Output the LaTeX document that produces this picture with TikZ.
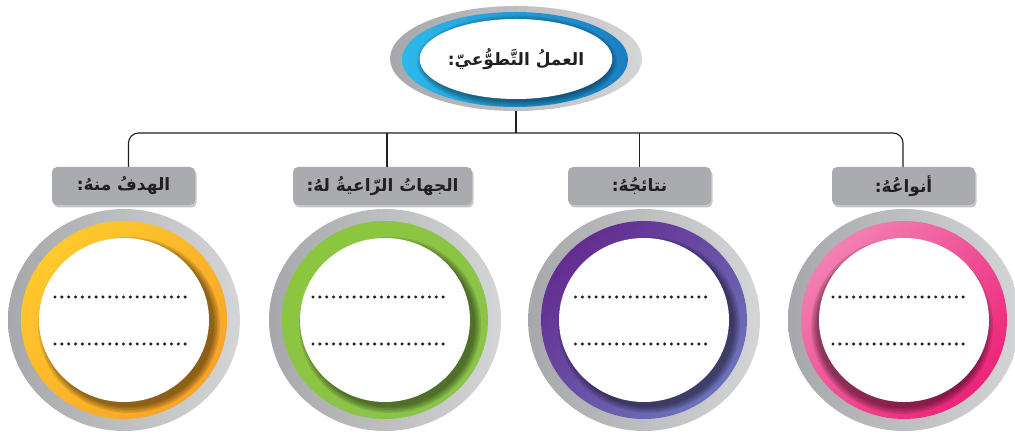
\documentclass[tikz,border=0pt]{standalone}
\usepackage{fontspec}
\TeXXeTstate=1
\newfontfamily\arabicfont[Script=Arabic]{DejaVu Sans}
\usetikzlibrary{shapes.geometric,shadows}
\definecolor{grayL}{HTML}{A6A8AB}
\definecolor{grayR}{HTML}{D4D5D6}
\definecolor{lblgray}{HTML}{A9ABAE}
\definecolor{txt}{HTML}{231F20}
\definecolor{blueA}{HTML}{2CB8EA}
\definecolor{blueB}{HTML}{1A7EC2}
\definecolor{yelA}{HTML}{FFC92C}
\definecolor{yelB}{HTML}{F7A42A}
\definecolor{grnA}{HTML}{8CC63F}
\definecolor{grnB}{HTML}{8BC34A}
\definecolor{purA}{HTML}{642C90}
\definecolor{purB}{HTML}{6C72BA}
\definecolor{pnkA}{HTML}{F37FB3}
\definecolor{pnkB}{HTML}{EC2479}
\tikzset{
  outerring/.style={ellipse, inner sep=0pt, left color=grayL, right color=grayR},
  colring/.style 2 args={ellipse, inner sep=0pt, top color=#1, bottom color=#2, shading angle=45},
  whitedisk/.style={ellipse, inner sep=0pt, fill=white},
  labelbox/.style={rounded corners=5pt, fill=lblgray, minimum height=38pt, inner sep=0pt,
    text=txt, font=\arabicfont\bfseries\fontsize{17}{20}\selectfont,
    drop shadow={shadow xshift=1.5pt, shadow yshift=-2.5pt, opacity=0.22, fill=black}},
  conn/.style={draw=txt, line width=1.1pt, rounded corners=10pt},
  dotline/.style={draw=txt, line width=3.4pt, line cap=round, dash pattern=on 0pt off 6.85pt},
}
\newcommand\myring[7]{%
  \node[outerring, minimum width=232pt, minimum height=222pt] (g#7) at (#1,115) {};
  \node[colring={#2}{#3}, minimum width=206pt, minimum height=198pt] (r#7) at (#1,115) {};
  \begin{scope}
    \clip (#1,115) ellipse [x radius=103pt, y radius=99pt];
    \foreach \d in {0,1.5,...,6}
      \fill[black, opacity=0.10, xshift=#4, yshift=#5] (#1,115) ellipse [x radius={85pt+\d pt}, y radius={82pt+\d pt}];
  \end{scope}
  \node[whitedisk, minimum width=170pt, minimum height=164pt] (c#7) at (#1,115) {};
  \coordinate (p#7a) at (#6-68.5,138);
  \coordinate (q#7a) at (#6+68.5,138);
  \coordinate (p#7b) at (#6-68.5,91);
  \coordinate (q#7b) at (#6+68.5,91);
  \draw[dotline] (p#7a) -- (q#7a);
  \draw[dotline] (p#7b) -- (q#7b);
}
\begin{document}
\begin{tikzpicture}[x=1pt,y=1pt]
\useasboundingbox (0,0) rectangle (1015,435);
% top ellipse
\node[outerring, minimum width=252pt, minimum height=105pt] (g0) at (516,376.5) {};
\node[ellipse, inner sep=0pt, left color=blueA, right color=blueB, minimum width=226pt, minimum height=95pt] (r0) at (515,375.5) {};
\begin{scope}
  \clip (515,375.5) ellipse [x radius=113pt, y radius=47.5pt];
  \foreach \d in {0,1.5,...,6}
    \fill[black, opacity=0.09, yshift=-4pt, xshift=1pt] (516,377.5) ellipse [x radius={94pt+\d pt}, y radius={40pt+\d pt}];
\end{scope}
\node[whitedisk, minimum width=188pt, minimum height=80pt, text=txt,
  font=\arabicfont\bfseries\fontsize{17}{20}\selectfont] (top) at (516,376)
  {\beginR العملُ التَّطوُّعيّ:\endR};
% rings
\myring{124}{yelA}{yelB}{5pt}{-5pt}{123.5}{1}
\myring{385}{grnA}{grnB}{5pt}{-5pt}{381.5}{2}
\myring{644}{purA}{purB}{5pt}{-5pt}{644}{3}
\myring{904}{pnkA}{pnkB}{-2pt}{-6pt}{901.5}{4}
% labels
\node[labelbox, minimum width=143pt] (l1) at (123.5,249) {\beginR الهدفُ منهُ:\endR};
\node[labelbox, minimum width=179pt] (l2) at (382.5,249) {\beginR الجهاتُ الرّاعيةُ لهُ:\endR};
\node[labelbox, minimum width=143pt] (l3) at (639.5,249) {\beginR نتائجُهُ:\endR};
\node[labelbox, minimum width=143pt] (l4) at (903.5,249) {\beginR أنواعُهُ:\endR};
% connectors
\coordinate (j) at (516,302);
\draw[conn] (g0.south) -- (j);
\draw[conn] ([xshift=5pt]l1.north) |- (j) -| ([xshift=-0.5pt]l4.north);
\draw[conn] ([xshift=4.5pt]l2.north) -- ([xshift=4.5pt]l2.north |- j);
\draw[conn] (l3.north) -- (l3.north |- j);
\end{tikzpicture}
\end{document}
